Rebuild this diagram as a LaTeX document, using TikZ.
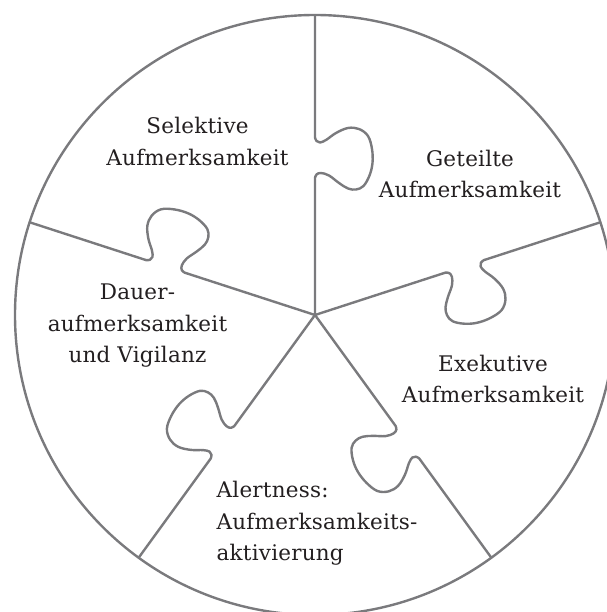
\documentclass[tikz,border=0pt]{standalone}
\usepackage{fontspec}
\setmainfont[LetterSpace=1]{DejaVu Serif}
\definecolor{linegray}{RGB}{122,122,125}
\definecolor{textgray}{RGB}{35,31,32}

\begin{document}
\begin{tikzpicture}[x=1pt,y=1pt]
\def\rad{300}
\useasboundingbox (-315,-297) rectangle (291,315);
\tikzset{piece/.style={linegray,line width=2.4pt,line join=round,line cap=round},
  label/.style={text=textgray,inner sep=0pt,align=center,font=\fontsize{21.5}{31.5}\selectfont}}

\draw[piece] (0,0) circle (\rad);

\foreach \ang in {18,90,162,234,306}
  \draw[piece,rotate=\ang] (0,0) -- (137,0) -- plot[smooth,tension=0.6] coordinates {(137,0) (140.5,-1.5) (142,-6) (139.5,-14) (132,-24) (126.5,-33) (125.5,-41) (129,-48.5) (139.5,-54.5) (152,-57.5) (166,-57) (179,-53) (186,-44) (187,-33) (182,-21) (175,-11) (172.5,-5) (174,-1.5) (177.5,0)} -- (\rad,0);

\node[label,anchor=base] (selektiv) at (-117.5,149.6) {Selektive\\Aufmerksamkeit};
\node[label,anchor=base] (geteilt) at (155,117) {Geteilte\\Aufmerksamkeit};
\node[label,anchor=base] (dauer) at (-177.5,-48) {Dauer-\\aufmerksamkeit\\und Vigilanz};
\node[label,anchor=base] (exekutiv) at (178,-88) {Exekutive\\Aufmerksamkeit};
\node[label,align=left,anchor=base west] (alert) at (-98.5,-245.5) {Alertness:\\Aufmerksamkeits-\\aktivierung};
\end{tikzpicture}
\end{document}
